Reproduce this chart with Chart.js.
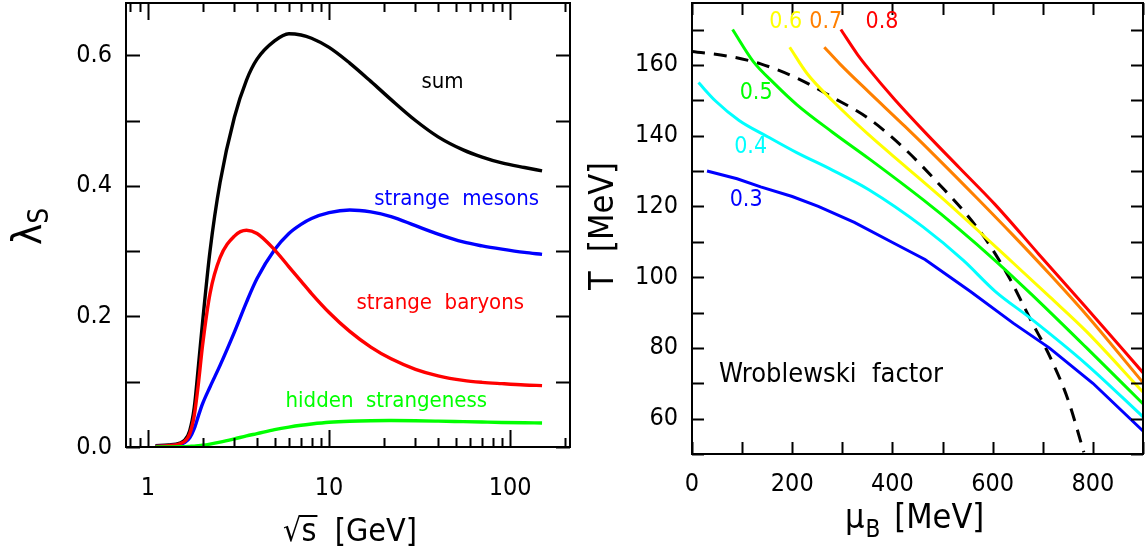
<!DOCTYPE html>
<html>
<head>
<meta charset="utf-8">
<script src="https://cdn.jsdelivr.net/npm/chart.js@4.4.1/dist/chart.umd.min.js"></script>
<style>
  html, body { margin: 0; padding: 0; background: #fff; }
  #wrap { position: relative; width: 1146px; height: 555px; }
  #left { position: absolute; left: 0; top: 0; width: 580px; height: 555px; }
  #right { position: absolute; left: 580px; top: 0; width: 566px; height: 555px; }
</style>
</head>
<body>
<div id="wrap">
  <canvas id="left" width="580" height="555"></canvas>
  <canvas id="right" width="566" height="555"></canvas>
</div>
<script>
// ---- left panel: strangeness ratio vs sqrt(s) ----
const sqrtS = [1.1, 1.3, 1.5, 1.6, 1.7, 1.8, 1.9, 2.0, 2.2, 2.5, 3.0, 3.5, 4.0, 5.0, 6.0, 7.0, 8.0, 10, 13, 17, 22, 30, 40, 55, 70, 90, 120, 150];
const lambdaSum     = [0.002, 0.003, 0.006, 0.011, 0.025, 0.06, 0.125, 0.19, 0.30, 0.405, 0.505, 0.562, 0.594, 0.622, 0.633, 0.631, 0.626, 0.612, 0.588, 0.560, 0.532, 0.500, 0.475, 0.455, 0.444, 0.435, 0.428, 0.423];
const lambdaMesons  = [0.001, 0.002, 0.004, 0.007, 0.014, 0.028, 0.048, 0.066, 0.092, 0.125, 0.176, 0.222, 0.258, 0.302, 0.327, 0.341, 0.350, 0.359, 0.363, 0.360, 0.353, 0.339, 0.326, 0.314, 0.308, 0.303, 0.298, 0.295];
const lambdaBaryons = [0.001, 0.002, 0.005, 0.009, 0.02, 0.048, 0.098, 0.155, 0.235, 0.29, 0.323, 0.332, 0.327, 0.302, 0.276, 0.254, 0.235, 0.206, 0.177, 0.153, 0.135, 0.119, 0.109, 0.102, 0.099, 0.097, 0.095, 0.094];
const lambdaHidden  = [0.0, 0.0, 0.0003, 0.0006, 0.001, 0.0014, 0.002, 0.0027, 0.0045, 0.0075, 0.0125, 0.017, 0.0205, 0.0265, 0.0305, 0.0333, 0.0352, 0.0378, 0.0395, 0.0403, 0.0405, 0.0402, 0.0396, 0.0388, 0.0382, 0.0376, 0.0371, 0.0368];

const leftXLabels = [1, 10, 100];
const leftXMinor = [0.8, 0.9, 2, 3, 4, 5, 6, 7, 8, 9, 20, 30, 40, 50, 60, 70, 80, 90, 200];
const leftYLabels = [0, 0.2, 0.4, 0.6];
const leftYMinor = [0.1, 0.3, 0.5];

// ---- right panel: Wroblewski factor contours in (mu_B, T) ----
const mu03 = [30, 90, 137, 200, 252, 324, 404, 465, 555, 641, 713, 800, 900];
const T03  = [130, 127.8, 125.5, 122.8, 120, 115.5, 109.5, 105, 96, 87, 80, 70, 56.5];
const mu04 = [13, 47, 94, 151, 209, 281, 353, 461, 541, 605, 677, 786, 900];
const T04  = [155, 149.8, 144.3, 139.7, 135.2, 130.2, 124.7, 114.2, 104.8, 96, 88.2, 75.5, 60.5];
const mu05 = [81, 122, 166, 209, 281, 353, 461, 533, 605, 677, 786, 900];
const T05  = [170, 161, 154.5, 148.8, 140.9, 133.5, 121.9, 113.6, 104.7, 95.2, 80.2, 64.2];
const mu06 = [195, 230, 281, 353, 425, 497, 569, 641, 714, 786, 900];
const T06  = [165, 157.5, 149.8, 140.2, 131.4, 122.6, 113.4, 104, 94.4, 84.8, 67.5];
const mu07 = [264, 295, 353, 425, 497, 569, 641, 714, 786, 900];
const T07  = [165, 160.3, 152.3, 142.6, 132.6, 122.3, 111.8, 100.8, 89.5, 70.2];
const mu08 = [297, 330, 353, 404, 468, 533, 605, 692, 786, 900];
const T08  = [170, 163, 158.8, 150.3, 140.5, 131, 120.5, 106.5, 91.5, 73];
const muFreeze = [0, 79, 137, 209, 281, 353, 425, 497, 548, 591, 634, 677, 714, 750, 782];
const TFreeze  = [163.8, 162.3, 160.3, 156.3, 150.8, 144.8, 136.2, 125.7, 117.7, 109.7, 99.6, 87.6, 77.6, 65.5, 50.5];

const rightXLabels = [0, 200, 400, 600, 800];
const rightXMinor = [100, 300, 500, 700, 900];
const rightYLabels = [60, 80, 100, 120, 140, 160];
const rightYMinor = [50, 70, 90, 110, 130, 150, 170];

const FONT = '"DejaVu Sans Condensed", "DejaVu Sans", sans-serif';

function pts(xs, ys) {
  return xs.map((x, i) => ({ x: x, y: ys[i] }));
}

// box frame with inward ticks on all four sides
function drawFrame(chart, o) {
  const { ctx, chartArea: a, scales: { x, y } } = chart;
  ctx.save();
  ctx.strokeStyle = '#000';
  ctx.lineWidth = 2;
  ctx.strokeRect(a.left, a.top, a.right - a.left, a.bottom - a.top);
  ctx.beginPath();
  const xt = (vals, len) => vals.forEach(v => {
    const px = Math.round(x.getPixelForValue(v)) + 0.5;
    ctx.moveTo(px, a.bottom); ctx.lineTo(px, a.bottom - len);
    ctx.moveTo(px, a.top); ctx.lineTo(px, a.top + len);
  });
  const yt = (vals, len) => vals.forEach(v => {
    const py = Math.round(y.getPixelForValue(v)) + 0.5;
    ctx.moveTo(a.left, py); ctx.lineTo(a.left + len, py);
    ctx.moveTo(a.right, py); ctx.lineTo(a.right - len, py);
  });
  xt(o.xMajor, o.xMajorLen); xt(o.xMinor, o.xMinorLen);
  yt(o.yMajor, o.yMajorLen); yt(o.yMinor, o.yMinorLen);
  ctx.stroke();
  ctx.restore();
}

function drawLabels(chart, items) {
  const { ctx, scales: { x, y } } = chart;
  ctx.save();
  ctx.textAlign = 'center';
  ctx.textBaseline = 'middle';
  items.forEach(it => {
    ctx.font = it.size + 'px ' + FONT;
    ctx.fillStyle = it.color;
    ctx.fillText(it.text, x.getPixelForValue(it.at[0]), y.getPixelForValue(it.at[1]));
  });
  ctx.restore();
}

const leftDecor = {
  id: 'leftDecor',
  afterDatasetsDraw(chart) {
    drawFrame(chart, {
      xMajor: leftXLabels, xMinor: leftXMinor, yMajor: leftYLabels, yMinor: leftYMinor,
      xMajorLen: 17, xMinorLen: 9, yMajorLen: 14, yMinorLen: 14
    });
    drawLabels(chart, [
      { text: 'sum', at: [42.3, 0.559], color: '#000', size: 22 },
      { text: 'strange  mesons', at: [50.6, 0.380], color: '#0000ff', size: 22 },
      { text: 'strange  baryons', at: [41.1, 0.2195], color: '#ff0000', size: 22 },
      { text: 'hidden  strangeness', at: [20.7, 0.0694], color: '#00ff00', size: 22 }
    ]);
    const ctx = chart.ctx;
    ctx.save();
    ctx.fillStyle = '#000';
    // y title: lambda_S, rotated
    ctx.translate(41, 245);
    ctx.rotate(-Math.PI / 2);
    ctx.font = '40px ' + FONT;
    ctx.textAlign = 'left';
    ctx.textBaseline = 'alphabetic';
    ctx.fillText('λ', 0, 0);
    const lw = ctx.measureText('λ').width;
    ctx.font = '28px ' + FONT;
    ctx.fillText('S', lw, 7);
    ctx.restore();
    // x title: sqrt(s) [GeV]
    ctx.save();
    ctx.fillStyle = '#000';
    ctx.strokeStyle = '#000';
    ctx.font = '32px ' + FONT;
    ctx.textBaseline = 'alphabetic';
    const full = '√s  [GeV]';
    const fw = ctx.measureText(full).width;
    const x0 = 350 - fw / 2, base = 541;
    ctx.fillText(full, x0, base);
    const rw = ctx.measureText('√').width;
    const sw = ctx.measureText('s').width;
    const top = base - ctx.measureText('√').actualBoundingBoxAscent + 1;
    ctx.lineWidth = 2;
    ctx.beginPath();
    ctx.moveTo(x0 + rw - 2, top);
    ctx.lineTo(x0 + rw + sw + 1, top);
    ctx.stroke();
    ctx.restore();
  }
};

const rightDecor = {
  id: 'rightDecor',
  afterDatasetsDraw(chart) {
    drawFrame(chart, {
      xMajor: rightXLabels, xMinor: rightXMinor, yMajor: rightYLabels, yMinor: rightYMinor,
      xMajorLen: 12, xMinorLen: 12, yMajorLen: 12, yMinorLen: 12
    });
    drawLabels(chart, [
      { text: '0.3', at: [108, 121.9], color: '#0000ff', size: 23 },
      { text: '0.4', at: [117, 136.9], color: '#00ffff', size: 23 },
      { text: '0.5', at: [128, 152], color: '#00ff00', size: 23 },
      { text: '0.6', at: [187, 172], color: '#ffff00', size: 23 },
      { text: '0.7', at: [267, 172], color: '#ff8000', size: 23 },
      { text: '0.8', at: [379, 172], color: '#ff0000', size: 23 },
      { text: 'Wroblewski  factor', at: [277.5, 72.3], color: '#000', size: 27 }
    ]);
    const ctx = chart.ctx;
    ctx.save();
    ctx.fillStyle = '#000';
    ctx.translate(33, 226);
    ctx.rotate(-Math.PI / 2);
    ctx.font = '34px ' + FONT;
    ctx.textAlign = 'center';
    ctx.textBaseline = 'alphabetic';
    ctx.fillText('T  [MeV]', 0, 0);
    ctx.restore();
    // x title: mu_B [MeV]
    ctx.save();
    ctx.fillStyle = '#000';
    ctx.textBaseline = 'alphabetic';
    let cx = 265;
    ctx.font = '34px ' + FONT;
    ctx.fillText('μ', cx, 528);
    cx += ctx.measureText('μ').width + 1;
    ctx.font = '24px ' + FONT;
    ctx.fillText('B', cx, 537);
    cx += ctx.measureText('B').width + 14;
    ctx.font = '34px ' + FONT;
    ctx.fillText('[MeV]', cx, 528);
    ctx.restore();
  }
};

const tickFont = { family: FONT, size: 25 };
const noGrid = { display: false, drawTicks: false };

new Chart(document.getElementById('left'), {
  type: 'line',
  data: {
    datasets: [
      { data: pts(sqrtS, lambdaHidden), borderColor: '#00ff00' },
      { data: pts(sqrtS, lambdaBaryons), borderColor: '#ff0000' },
      { data: pts(sqrtS, lambdaMesons), borderColor: '#0000ff' },
      { data: pts(sqrtS, lambdaSum), borderColor: '#000000' }
    ]
  },
  options: {
    responsive: false,
    animation: false,
    layout: { padding: { top: 3, right: 10, left: 0, bottom: 0 } },
    plugins: { legend: { display: false }, tooltip: { enabled: false } },
    elements: {
      point: { radius: 0 },
      line: { borderWidth: 3.4, cubicInterpolationMode: 'monotone', fill: false }
    },
    scales: {
      x: {
        type: 'logarithmic', min: 0.756, max: 214,
        grid: noGrid, border: { display: false },
        afterBuildTicks: s => { s.ticks = leftXLabels.map(v => ({ value: v })); },
        afterFit: s => { s.height = 108; s.paddingLeft = 0; s.paddingRight = 0; },
        ticks: { font: tickFont, color: '#000', padding: 26, maxRotation: 0, autoSkip: false, callback: v => String(v) }
      },
      y: {
        type: 'linear', min: 0, max: 0.68,
        grid: noGrid, border: { display: false },
        afterBuildTicks: s => { s.ticks = leftYLabels.map(v => ({ value: v })); },
        afterFit: s => { s.width = 126; s.paddingTop = 0; s.paddingBottom = 0; },
        ticks: { font: tickFont, color: '#000', padding: 14, callback: v => v.toFixed(1) }
      }
    }
  },
  plugins: [leftDecor]
});

new Chart(document.getElementById('right'), {
  type: 'line',
  data: {
    datasets: [
      { data: pts(mu03, T03), borderColor: '#0000ff', tension: 0, cubicInterpolationMode: 'default' },
      { data: pts(mu04, T04), borderColor: '#00ffff' },
      { data: pts(mu05, T05), borderColor: '#00ff00' },
      { data: pts(mu06, T06), borderColor: '#ffff00' },
      { data: pts(mu07, T07), borderColor: '#ff8000' },
      { data: pts(mu08, T08), borderColor: '#ff0000' },
      { data: pts(muFreeze, TFreeze), borderColor: '#000000', borderDash: [13, 9], borderWidth: 3 }
    ]
  },
  options: {
    responsive: false,
    animation: false,
    layout: { padding: { top: 3, right: 3, left: 0, bottom: 0 } },
    plugins: { legend: { display: false }, tooltip: { enabled: false } },
    elements: {
      point: { radius: 0 },
      line: { borderWidth: 3, cubicInterpolationMode: 'monotone', fill: false }
    },
    scales: {
      x: {
        type: 'linear', min: 0, max: 900,
        grid: noGrid, border: { display: false },
        afterBuildTicks: s => { s.ticks = rightXLabels.map(v => ({ value: v })); },
        afterFit: s => { s.height = 101; s.paddingLeft = 0; s.paddingRight = 0; },
        ticks: { font: tickFont, color: '#000', padding: 15, maxRotation: 0, autoSkip: false, callback: v => String(v) }
      },
      y: {
        type: 'linear', min: 50, max: 177.5,
        grid: noGrid, border: { display: false },
        afterBuildTicks: s => { s.ticks = rightYLabels.map(v => ({ value: v })); },
        afterFit: s => { s.width = 112; s.paddingTop = 0; s.paddingBottom = 0; },
        ticks: { font: tickFont, color: '#000', padding: 14, callback: v => String(v) }
      }
    }
  },
  plugins: [rightDecor]
});
</script>
</body>
</html>
